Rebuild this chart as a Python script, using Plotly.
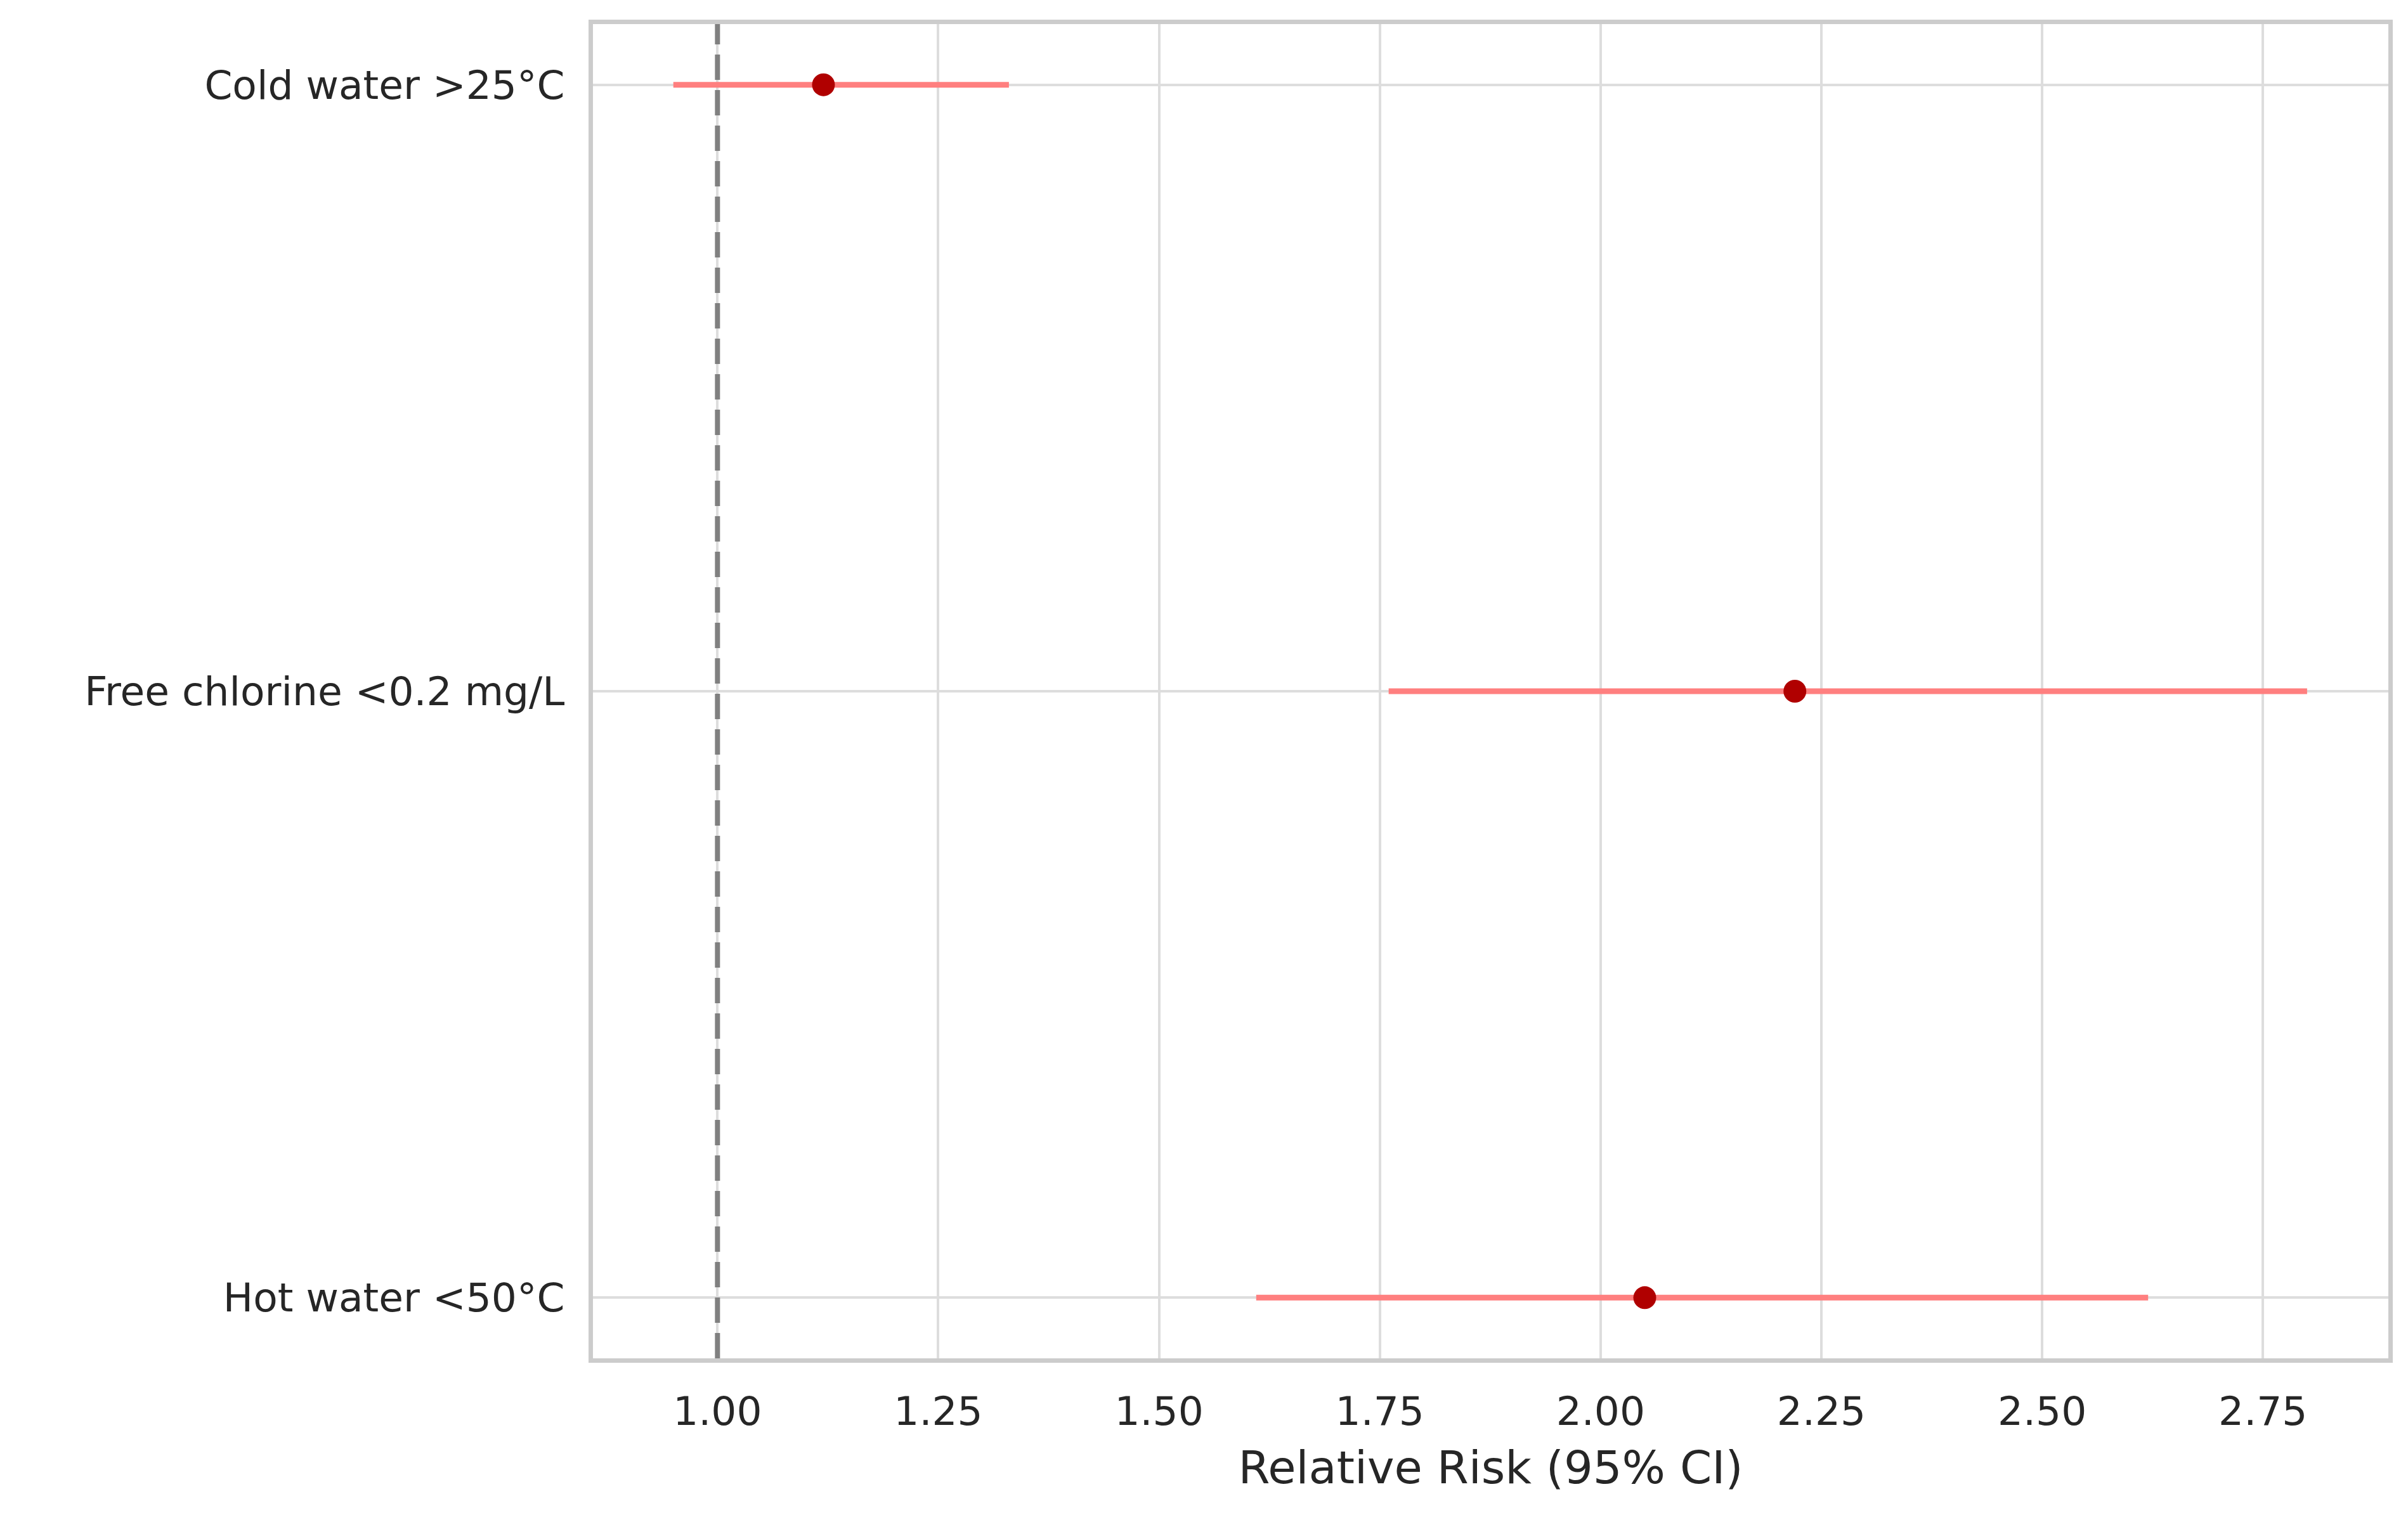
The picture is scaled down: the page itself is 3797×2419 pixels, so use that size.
import plotly.graph_objects as go

categories = ["Cold water >25°C", "Free chlorine <0.2 mg/L", "Hot water <50°C"]
rr = [1.12, 2.22, 2.05]
ci_low = [0.95, 1.76, 1.61]
ci_high = [1.33, 2.80, 2.62]

fig = go.Figure()
for c, lo, hi in zip(categories, ci_low, ci_high):
    fig.add_trace(go.Scatter(x=[lo, hi], y=[c, c], mode="lines",
                             line=dict(color="#ff7f7f", width=9), showlegend=False))
fig.add_trace(go.Scatter(x=rr, y=categories, mode="markers",
                         marker=dict(color="#b00000", size=36), showlegend=False))
fig.add_vline(x=1.0, line=dict(color="#808080", width=8, dash="40px,16px"))

fig.update_layout(
    width=3797, height=2419,
    paper_bgcolor="white", plot_bgcolor="white",
    margin=dict(l=927, r=39, t=30, b=285),
    font=dict(family="DejaVu Sans", size=63, color="#262626"),
    xaxis=dict(range=[0.859, 2.892], tickvals=[1.0, 1.25, 1.5, 1.75, 2.0, 2.25, 2.5, 2.75],
               tickformat=".2f", showgrid=True, gridcolor="#dddddd", gridwidth=4,
               zeroline=False, showline=True, linecolor="#cccccc", linewidth=7, mirror=True,
               title=dict(text="Relative Risk (95% CI)", font=dict(size=72), standoff=30),
               ticks="", ticklabelstandoff=22),
    yaxis=dict(categoryorder="array", categoryarray=categories, range=[2.1, -0.1],
               showgrid=True, gridcolor="#dddddd", gridwidth=4, zeroline=False,
               showline=True, linecolor="#cccccc", linewidth=7, mirror=True,
               ticks="", ticklabelstandoff=25),
)
fig.write_html("out.html")
